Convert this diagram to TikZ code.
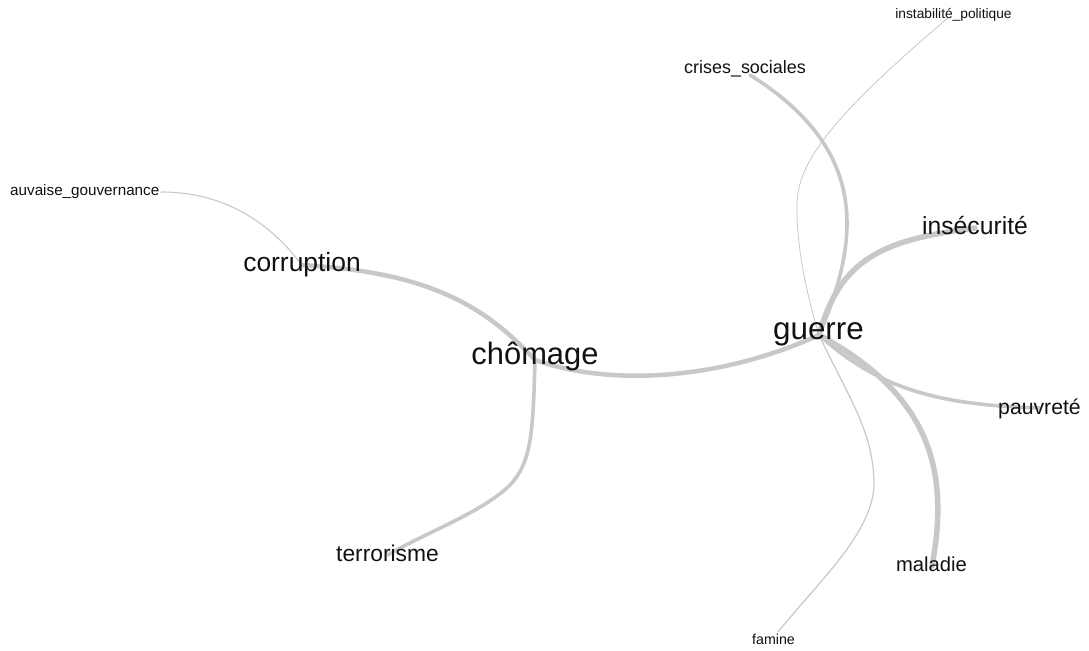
\documentclass[tikz,border=0pt]{standalone}
\usepackage{fontspec}
\setmainfont{Liberation Sans}
\definecolor{edgegray}{HTML}{C8C8C8}
\definecolor{txt}{HTML}{111111}
\tikzset{
  edge/.style={draw=edgegray, line cap=round, line join=round},
  word/.style={anchor=base, inner sep=0pt, text=txt},
}
\newcommand{\fs}[1]{\fontsize{#1}{#1}\selectfont}
\begin{document}
\begin{tikzpicture}[x=1bp, y=-1bp]
\useasboundingbox[fill=white] (0,0) rectangle (1089,651);
% hubs
\coordinate (guerre) at (819,335);
\coordinate (chomage) at (535,360);
\coordinate (corruption) at (302,265);
\coordinate (mauvaise) at (161,192);
\coordinate (instab) at (948,18);
\coordinate (crises) at (750,75);
\coordinate (insecurite) at (975,228);
\coordinate (pauvrete) at (1040,408);
\coordinate (maladie) at (932,566);
\coordinate (famine) at (778,632);
\coordinate (terrorisme) at (388,555);
% edges
\draw[edge, line width=1.1pt] (corruption) .. controls (260,210) and (210,192) .. (mauvaise);
\draw[edge, line width=0.8pt] (guerre) .. controls (805,290) and (796,240) .. (797,205) .. controls (798,170) and (815,130) .. (instab);
\draw[edge, line width=1.2pt] (guerre) .. controls (850,400) and (872,430) .. (874,480) .. controls (876,530) and (820,580) .. (famine);
\draw[edge, line width=3.6pt] (guerre) .. controls (860,240) and (870,150) .. (crises);
\draw[edge, line width=3.6pt] (guerre) .. controls (880,390) and (940,405) .. (pauvrete);
\draw[edge, line width=3.6pt] (chomage) .. controls (533,430) and (532,462) .. (510,485) .. controls (482,513) and (420,535) .. (terrorisme);
\draw[edge, line width=4.5pt] (corruption) .. controls (420,272) and (480,300) .. (chomage);
\draw[edge, line width=4.5pt] (chomage) .. controls (615,388) and (725,378) .. (guerre);
\draw[edge, line width=5.5pt] (guerre) .. controls (840,260) and (880,240) .. (insecurite);
\draw[edge, line width=5.5pt] (guerre) .. controls (930,395) and (950,470) .. (maladie);
% labels
\node[word, font=\fs{31.5}] (guerre-l) at (818.5,339) {guerre};
\node[word, font=\fs{31}] (chomage-l) at (535,364) {chômage};
\node[word, font=\fs{26.5}] (corruption-l) at (302,271) {corruption};
\node[word, anchor=base west, font=\fs{15.3}] (mauvaise-l) at (10,196) {auvaise\_gouvernance};
\node[word, font=\fs{13.8}] (instab-l) at (953.5,18.5) {instabilité\_politique};
\node[word, font=\fs{18}] (crises-l) at (745,74) {crises\_sociales};
\node[word, font=\fs{24.8}] (insecurite-l) at (975,234) {insécurité};
\node[word, font=\fs{21.3}] (pauvrete-l) at (1039.5,414) {pauvreté};
\node[word, font=\fs{20.3}] (maladie-l) at (931.5,571) {maladie};
\node[word, font=\fs{14.3}] (famine-l) at (773.5,644) {famine};
\node[word, font=\fs{22.9}] (terrorisme-l) at (387.5,561) {terrorisme};
\end{tikzpicture}
\end{document}
